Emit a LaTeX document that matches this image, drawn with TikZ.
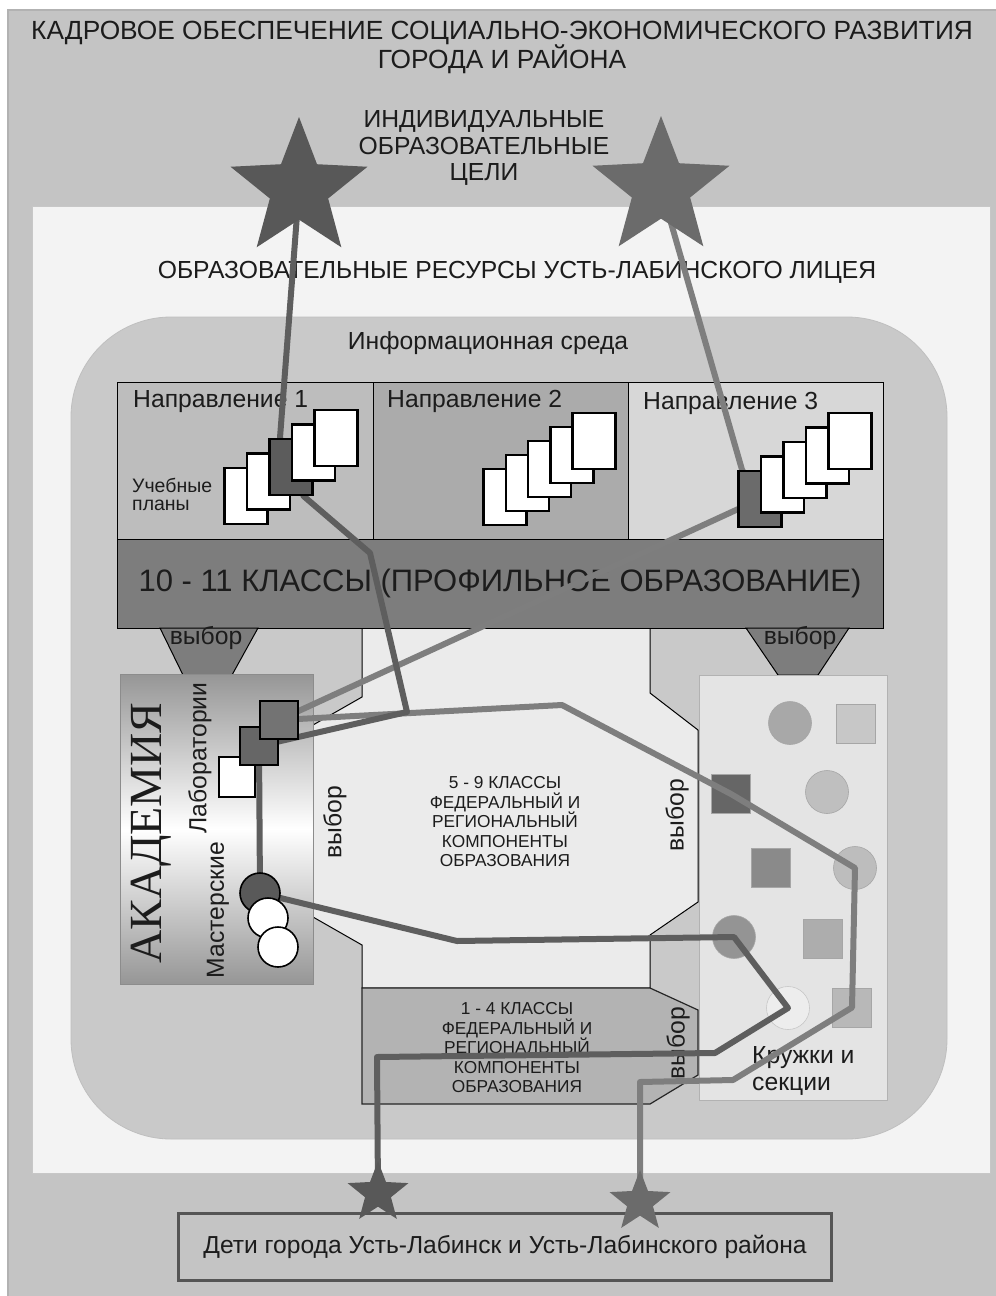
\documentclass[tikz,border=0pt]{standalone}
\usepackage{fontspec}
\setmainfont{Liberation Sans}
\newfontfamily\academyfont{Liberation Serif}
\usetikzlibrary{shapes.geometric}

\newcommand\setfs[2]{\fontsize{#1}{#2}\selectfont}

\definecolor{ink}{HTML}{1C1C1C}
\definecolor{bgouter}{HTML}{C4C4C4}
\definecolor{innerbg}{HTML}{F3F3F3}
\definecolor{infoenv}{HTML}{C9C9C9}
\definecolor{midfield}{HTML}{EBEBEB}
\definecolor{dirA}{HTML}{BDBDBD}
\definecolor{dirB}{HTML}{ABABAB}
\definecolor{dirC}{HTML}{D7D7D7}
\definecolor{band}{HTML}{7D7D7D}
\definecolor{boxlow}{HTML}{B3B3B3}
\definecolor{panel}{HTML}{E4E4E4}
\definecolor{acad}{HTML}{969696}
\definecolor{lineA}{HTML}{5E5E5E}
\definecolor{lineB}{HTML}{7E7E7E}
\definecolor{starone}{HTML}{585858}
\definecolor{startwo}{HTML}{6B6B6B}
\definecolor{darkpage}{HTML}{5C5C5C}
\definecolor{frame}{HTML}{555555}

\pgfdeclarelayer{front}
\pgfsetlayers{main,front}

\begin{document}
\begin{tikzpicture}[x=1pt, y=-1pt,
  txt/.style   ={text=ink, inner sep=0pt, align=center, font=\setfs{24.7}{27}},
  small/.style ={text=ink, inner sep=0pt, align=center, font=\setfs{17.3}{19.5}},
  dirbox/.style={draw=black, line width=1pt, inner sep=0pt, minimum height=157pt, minimum width=255pt},
  sheet/.style ={draw=black, line width=2.6pt, fill=#1, minimum width=43pt, minimum height=56pt, inner sep=0pt},
  cell/.style  ={draw=black, line width=1.6pt, fill=#1, minimum size=38pt, inner sep=0pt},
  token/.style ={draw=black!35, line width=0.6pt, fill=#1, minimum size=39pt, inner sep=0pt},
  disc/.style  ={circle, draw=black!35, line width=0.6pt, fill=#1, minimum size=43pt, inner sep=0pt},
  funnel/.style={draw=black, line width=1pt, fill=band},
  linkA/.style ={draw=lineA, line width=6pt, line join=round},
  linkB/.style ={draw=lineB, line width=6pt, line join=round},
  goal/.style  ={star, star points=5, star point ratio=2.35, inner sep=0pt, fill=#1},
]
\useasboundingbox (0,0) rectangle (996,1296);

% ---------- background ----------
\fill[white] (0,0) rectangle (996,1296);
\draw[fill=bgouter, draw=black!30, line width=1.5pt] (8,10) rectangle (1002,1302);
\draw[fill=innerbg, draw=black!22, line width=1pt] (32,206) rectangle (990,1173);
\draw[fill=infoenv, draw=black!25, line width=0.8pt, rounded corners=100pt] (71,317) rectangle (947,1139);

\node[txt, font=\setfs{26.3}{29}] (title) at (502,47) {КАДРОВОЕ ОБЕСПЕЧЕНИЕ СОЦИАЛЬНО-ЭКОНОМИЧЕСКОГО РАЗВИТИЯ\\ГОРОДА И РАЙОНА};
\node[txt, font=\setfs{24.7}{26.5}] (goals) at (484,148) {ИНДИВИДУАЛЬНЫЕ\\ОБРАЗОВАТЕЛЬНЫЕ\\ЦЕЛИ};
\node[txt] (res) at (517,272) {ОБРАЗОВАТЕЛЬНЫЕ РЕСУРСЫ УСТЬ-ЛАБИНСКОГО ЛИЦЕЯ};
\node[txt] (info) at (488,343) {Информационная среда};

% ---------- 5 - 9 ----------
\draw[fill=midfield, draw=black, line width=1pt]
  (362,628) -- (650,628) -- (650,693) -- (698,730) -- (698,902) -- (650,935) -- (650,988)
  -- (362,988) -- (362,945) -- (313,917) -- (313,725) -- (362,697) -- cycle;
\node[small] (mid) at (505,822) {5 - 9 КЛАССЫ\\ФЕДЕРАЛЬНЫЙ И\\РЕГИОНАЛЬНЫЙ\\КОМПОНЕНТЫ\\ОБРАЗОВАНИЯ};

% ---------- 1 - 4 ----------
\draw[fill=boxlow, draw=black!85, line width=1.2pt]
  (362,988) -- (650,988) -- (698,1010) -- (698,1075) -- (650,1104) -- (362,1104) -- cycle;
\node[small] (low) at (517,1048) {1 - 4 КЛАССЫ\\ФЕДЕРАЛЬНЫЙ И\\РЕГИОНАЛЬНЫЙ\\КОМПОНЕНТЫ\\ОБРАЗОВАНИЯ};

% ---------- 10 - 11 ----------
\node[dirbox, fill=dirA, minimum width=256pt] (dir1) at (245,460.5) {};
\node[dirbox, fill=dirB] (dir2) at (500.5,460.5) {};
\node[dirbox, fill=dirC] (dir3) at (755.5,460.5) {};
\node[dirbox, fill=band, minimum width=766pt, minimum height=89pt, text=ink, font=\setfs{31}{34}] (band) at (500,583.5) {10 - 11 КЛАССЫ (ПРОФИЛЬНОЕ ОБРАЗОВАНИЕ)};
\node[txt, anchor=west] (n1) at (133,402) {Направление 1};
\node[txt, anchor=west] (n2) at (387,401) {Направление 2};
\node[txt, anchor=west] (n3) at (643,403) {Направление 3};
\node[txt, anchor=west, align=left, font=\setfs{19.5}{18}] (plans) at (132,494) {Учебные\\планы};

\draw[funnel] (160,628) -- (258,628) -- (232,675) -- (183,675) -- cycle;
\draw[funnel] (746,628) -- (849,628) -- (818,675) -- (778,675) -- cycle;
\node[txt] (ch1) at (206,638) {выбор};
\node[txt] (ch2) at (800,638) {выбор};

% ---------- Академия ----------
\node[draw=black!45, line width=0.8pt, top color=acad, bottom color=acad, middle color=white,
      minimum width=193pt, minimum height=310pt, inner sep=0pt] (acad) at (216.5,829) {};
\node[rotate=90, text=ink, inner sep=0pt, font=\academyfont\setfs{46}{50}] (akad) at (151,833) {АКАДЕМИЯ};
\node[txt, rotate=90] (labs) at (200,758) {Лаборатории};
\node[txt, rotate=90] (shops) at (218,910) {Мастерские};
\node[txt, rotate=90] (ch3) at (335,822) {выбор};
\node[txt, rotate=90] (ch4) at (677,815) {выбор};
\node[txt, rotate=90] (ch5) at (678,1043) {выбор};

% ---------- Кружки и секции ----------
\node[draw=black!30, line width=0.8pt, fill=panel, minimum width=188pt, minimum height=425pt, inner sep=0pt] (panel) at (793,887.5) {};
\node[disc=black!34]  (k1)  at (790,723) {};
\node[token=black!22] (k2)  at (855.5,724) {};
\node[token=black!60] (k3)  at (731,794) {};
\node[disc=black!25]  (k4)  at (827,792) {};
\node[token=black!46] (k5)  at (771,868) {};
\node[disc=black!26]  (k6)  at (855,868) {};
\node[disc=black!42]  (k7)  at (734,937) {};
\node[token=black!32] (k8)  at (822.5,938.5) {};
\node[disc=black!7, draw=black!22] (k9) at (788,1008) {};
\node[token=black!28] (k10) at (852,1007.5) {};
\node[txt, anchor=west, align=left] (clubs) at (752,1071) {Кружки и\\секции};

% ---------- Дети ----------
\node[txt, draw=frame, line width=3pt, fill=bgouter, minimum width=653pt, minimum height=67pt, font=\setfs{24.6}{26}] (kids) at (505,1247) {Дети города Усть-Лабинск и Усть-Лабинского района};

% ---------- front: sheets, cells, stars ----------
\begin{pgfonlayer}{front}
\foreach \i/\c in {0/white,1/white,2/darkpage,3/white,4/white}
  \node[sheet=\c] (c1p\i) at (246+22.5*\i, 496-14.5*\i) {};
\foreach \i in {0,...,4}
  \node[sheet=white] (c2p\i) at (505+22.3*\i, 497-14*\i) {};
\foreach \i/\c in {0/black!58,1/white,2/white,3/white,4/white}
  \node[sheet=\c] (c3p\i) at (760+22.5*\i, 499-14.5*\i) {};

\node[cell=white, minimum width=36pt, minimum height=40pt] (labw) at (237,777) {};
\node[cell=black!60] (lablo) at (259,746) {};
\node[cell=black!55] (labhi) at (279,720) {};

\node[circle, draw=black, line width=1.6pt, fill=black!65, minimum size=40pt, inner sep=0pt] (mdark) at (260,893) {};
\node[circle, draw=black, line width=1.6pt, fill=white, minimum size=40pt, inner sep=0pt] (mw1) at (268,918) {};
\node[circle, draw=black, line width=1.6pt, fill=white, minimum size=40pt, inner sep=0pt] (mw2) at (278,947) {};

\node[goal=starone, minimum size=144pt] (starA) at (299,189) {};
\node[goal=startwo, minimum size=144pt] (starB) at (661,188) {};
\node[goal=starone, minimum size=64pt] (starC) at (378,1193) {};
\node[goal=startwo, minimum size=64pt] (starD) at (640,1202) {};
\end{pgfonlayer}

% ---------- routes ----------
\coordinate (a1) at (370,553);
\coordinate (a2) at (407,712);
\coordinate (a3) at (457,941);
\coordinate (a4) at (715,1053);
\coordinate (a5) at (377,1057);
\coordinate (b1) at (562,705);
\coordinate (b2) at (733,1080);
\coordinate (b3) at (640,1082);

\draw[linkB] (starB.center) -- ([xshift=-18pt]c3p0.north) -- (c3p0.center) -- (labhi.center)
  -- (b1) -- (k3.center) -- (k6.center) -- (k10.center) -- (b2) -- (b3) -- (starD.center);
\draw[linkA] (starA.center) -- ([xshift=-11pt]c1p2.north) -- (c1p2.center) -- ([xshift=-10pt]c1p2.south east)
  -- (a1) -- (a2) -- (lablo.center) -- (mdark.center) -- (a3) -- (k7.center) -- (k9.center)
  -- (a4) -- (a5) -- (starC.center);

\end{tikzpicture}
\end{document}
